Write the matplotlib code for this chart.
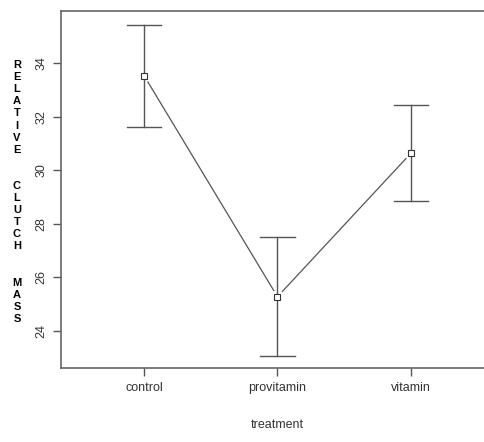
import matplotlib
matplotlib.use("Agg")
import matplotlib.pyplot as plt

categories = ["control", "provitamin", "vitamin"]
means = [33.52, 25.28, 30.63]
upper = [35.43, 27.50, 32.42]
lower = [31.62, 23.08, 28.84]
yticks = [24, 26, 28, 30, 32, 34]

plt.rcParams['font.family'] = ['Liberation Sans', 'DejaVu Sans']

fig = plt.figure(figsize=(4.85, 4.42), dpi=100)
ax = fig.add_axes([61/485, 1 - 368/442, 433/485, (368 - 11)/442])

xs = [1, 2, 3]
line_col = '#555555'
cap = 0.128
for x, lo, hi in zip(xs, lower, upper):
    ax.plot([x, x], [lo, hi], color=line_col, lw=1.0)
    ax.plot([x - cap, x + cap], [lo, lo], color=line_col, lw=1.0)
    ax.plot([x - cap, x + cap], [hi, hi], color=line_col, lw=1.0)

for i in range(len(xs) - 1):
    ax.annotate("", xy=(xs[i + 1], means[i + 1]), xytext=(xs[i], means[i]),
                arrowprops=dict(arrowstyle='-', color=line_col, lw=0.9,
                                shrinkA=5, shrinkB=5))

ax.plot(xs, means, linestyle='none', marker='s', markersize=4.3,
        markerfacecolor='white', markeredgecolor='#333333', markeredgewidth=0.8)

ax.set_xlim(0.376, 3.624)
ax.set_ylim(22.62, 35.94)
ax.set_xticks(xs)
ax.set_xticklabels(categories, fontsize=9, color='#333333')
ax.set_yticks(yticks)
ax.set_yticklabels([str(t) for t in yticks], fontsize=9, color='#333333',
                   rotation=90, va='center')
ax.tick_params(axis='both', length=6, width=1, color='#555555', pad=4)
for s in ax.spines.values():
    s.set_color('#666666')
    s.set_linewidth(1.2)

ax.set_xlabel("treatment", fontsize=9, color='#333333', labelpad=18)

fig.text(17/485, 1 - 192/442,
         "R\nE\nL\nA\nT\nI\nV\nE\n\n\nC\nL\nU\nT\nC\nH\n\n\nM\nA\nS\nS",
         ha='center', va='center', fontsize=8, fontweight='bold',
         linespacing=1.26, color='black')

fig.savefig("out.png", dpi=100)
